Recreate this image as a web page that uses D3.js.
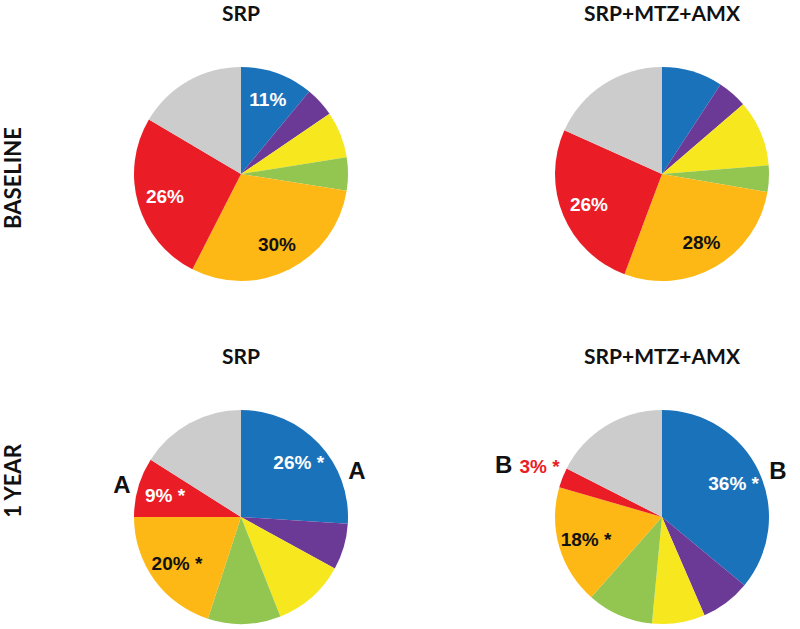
<!DOCTYPE html>
<html>
  <head>
    <meta charset="utf-8">
    <title>Microbial complexes - SRP vs SRP+MTZ+AMX</title>
    <script src="https://cdn.jsdelivr.net/npm/d3@7"></script>
    <style>
      body { margin: 0; background: #fff; }
      .title {
        font-family: 'Lato', 'Open Sans', sans-serif;
        font-size: 21px;
        font-weight: bold;
        text-anchor: middle;
        fill: #111;
      }
      .rowlabel {
        font-family: 'Lato', 'Open Sans', sans-serif;
        font-size: 22px;
        font-weight: bold;
        text-anchor: middle;
        fill: #111;
      }
      .slices path {
        stroke: none;
      }
      .pct {
        font-family: 'Liberation Sans', Arial, sans-serif;
        font-size: 19px;
        font-weight: bold;
        text-anchor: middle;
      }
      .sig {
        font-family: 'Liberation Sans', Arial, sans-serif;
        font-size: 24px;
        font-weight: bold;
        fill: #111;
      }
    </style>
  </head>
  <body>
    <script>

      // data (% of total DNA probe counts per complex)
      var complexes = ["Actinomyces", "Purple", "Yellow", "Green", "Orange", "Red", "Other"];
      var complexColors = ["#1a72bb", "#6b3a97", "#f6e71f", "#92c650", "#fdb815", "#ea1c25", "#cdcccd"];

      var groups = ["SRP", "SRP+MTZ+AMX"];
      var timepoints = ["BASELINE", "1 YEAR"];

      var srpBaseline = [11, 4.5, 7, 5, 30, 26, 16.5];
      var mtzBaseline = [9.2, 4.5, 10, 4, 28, 26, 18.3];
      var srpOneYear  = [26, 7, 11, 11, 20, 9, 16];
      var mtzOneYear  = [36, 7.5, 8, 10, 18, 3, 17.5];

      var srpBaselineLabels = ["11%", "", "", "", "30%", "26%", ""];
      var mtzBaselineLabels = ["", "", "", "", "28%", "26%", ""];
      var srpOneYearLabels  = ["26% *", "", "", "", "20% *", "9% *", ""];
      var mtzOneYearLabels  = ["36% *", "", "", "", "18% *", "3% *", ""];

      // significance letters (same letter = sig. difference between groups)
      var sigLetters = ["", "", "A", "B"];

      var panels = [
        { group: groups[0], time: timepoints[0], values: srpBaseline, labels: srpBaselineLabels, letter: sigLetters[0] },
        { group: groups[1], time: timepoints[0], values: mtzBaseline, labels: mtzBaselineLabels, letter: sigLetters[1] },
        { group: groups[0], time: timepoints[1], values: srpOneYear,  labels: srpOneYearLabels,  letter: sigLetters[2] },
        { group: groups[1], time: timepoints[1], values: mtzOneYear,  labels: mtzOneYearLabels,  letter: sigLetters[3] }
      ];

      var outerWidth = 800;
      var outerHeight = 629;
      var radius = 107;
      var labelRadius = radius * 0.74;

      var svg = d3.select("body").append("svg")
        .attr("width", outerWidth)
        .attr("height", outerHeight);

      var xScale = d3.scalePoint().domain(groups).range([241, 662]);
      var yScale = d3.scalePoint().domain(timepoints).range([174, 517]);
      var color = d3.scaleOrdinal().domain(complexes).range(complexColors);

      var pie = d3.pie().sort(null).value(function(d) { return d.value; });
      var arc = d3.arc().innerRadius(0).outerRadius(radius);
      var labelArc = d3.arc().innerRadius(labelRadius).outerRadius(labelRadius);

      function textColor(name) {
        return (name === "Actinomyces" || name === "Red") ? "#fff" : "#111";
      }

      // row labels
      svg.selectAll(".rowlabel").data(timepoints).enter().append("text")
        .attr("class", "rowlabel")
        .attr("transform", function(d, i) {
          var y = yScale(d) + (i === 0 ? 4 : -36);
          return "translate(21," + y + ") rotate(-90)";
        })
        .text(function(d) { return d; });

      panels.forEach(function(p) {
        var cx = xScale(p.group), cy = yScale(p.time);
        var data = complexes.map(function(c, i) {
          return { name: c, value: p.values[i], label: p.labels[i] };
        });
        var arcs = pie(data);

        svg.append("text")
          .attr("class", "title")
          .attr("x", cx)
          .attr("y", cy - 153)
          .text(p.group);

        var g = svg.append("g")
          .attr("transform", "translate(" + cx + "," + cy + ")");

        g.append("g").attr("class", "slices")
          .selectAll("path").data(arcs).enter().append("path")
          .attr("d", arc)
          .attr("fill", function(d) { return color(d.data.name); });

        // labels inside the larger slices
        g.selectAll(".pct").data(arcs.filter(function(d) { return d.data.label && d.data.value >= 5; }))
          .enter().append("text")
          .attr("class", "pct")
          .attr("x", function(d) { return labelArc.centroid(d)[0]; })
          .attr("y", function(d) { return labelArc.centroid(d)[1]; })
          .attr("dy", "0.35em")
          .attr("fill", function(d) { return textColor(d.data.name); })
          .text(function(d) { return d.data.label; });

        if (p.letter) {
          var red = arcs[complexes.indexOf("Red")];
          var small = red.data.value < 5;
          // small slice: its label sits outside, at the slice's upper edge, next to the letter
          var mid = small ? red.endAngle : (red.startAngle + red.endAngle) / 2;
          var lr = radius + 8;
          var t = g.append("text")
            .attr("class", "sig")
            .attr("text-anchor", "end")
            .attr("x", Math.sin(mid) * lr)
            .attr("y", -Math.cos(mid) * lr)
            .attr("dy", "0.35em");
          t.append("tspan").text(p.letter);
          if (small) {
            t.append("tspan")
              .attr("class", "pct")
              .attr("fill", color("Red"))
              .attr("dx", 7)
              .text(red.data.label);
          }
          // letter on the Actinomyces side
          var a = 68 * Math.PI / 180;
          g.append("text")
            .attr("class", "sig")
            .attr("text-anchor", "middle")
            .attr("x", Math.sin(a) * (radius + 18))
            .attr("y", -Math.cos(a) * (radius + 18))
            .attr("dy", "0.35em")
            .text(p.letter);
        }
      });

    </script>
  </body>
</html>
